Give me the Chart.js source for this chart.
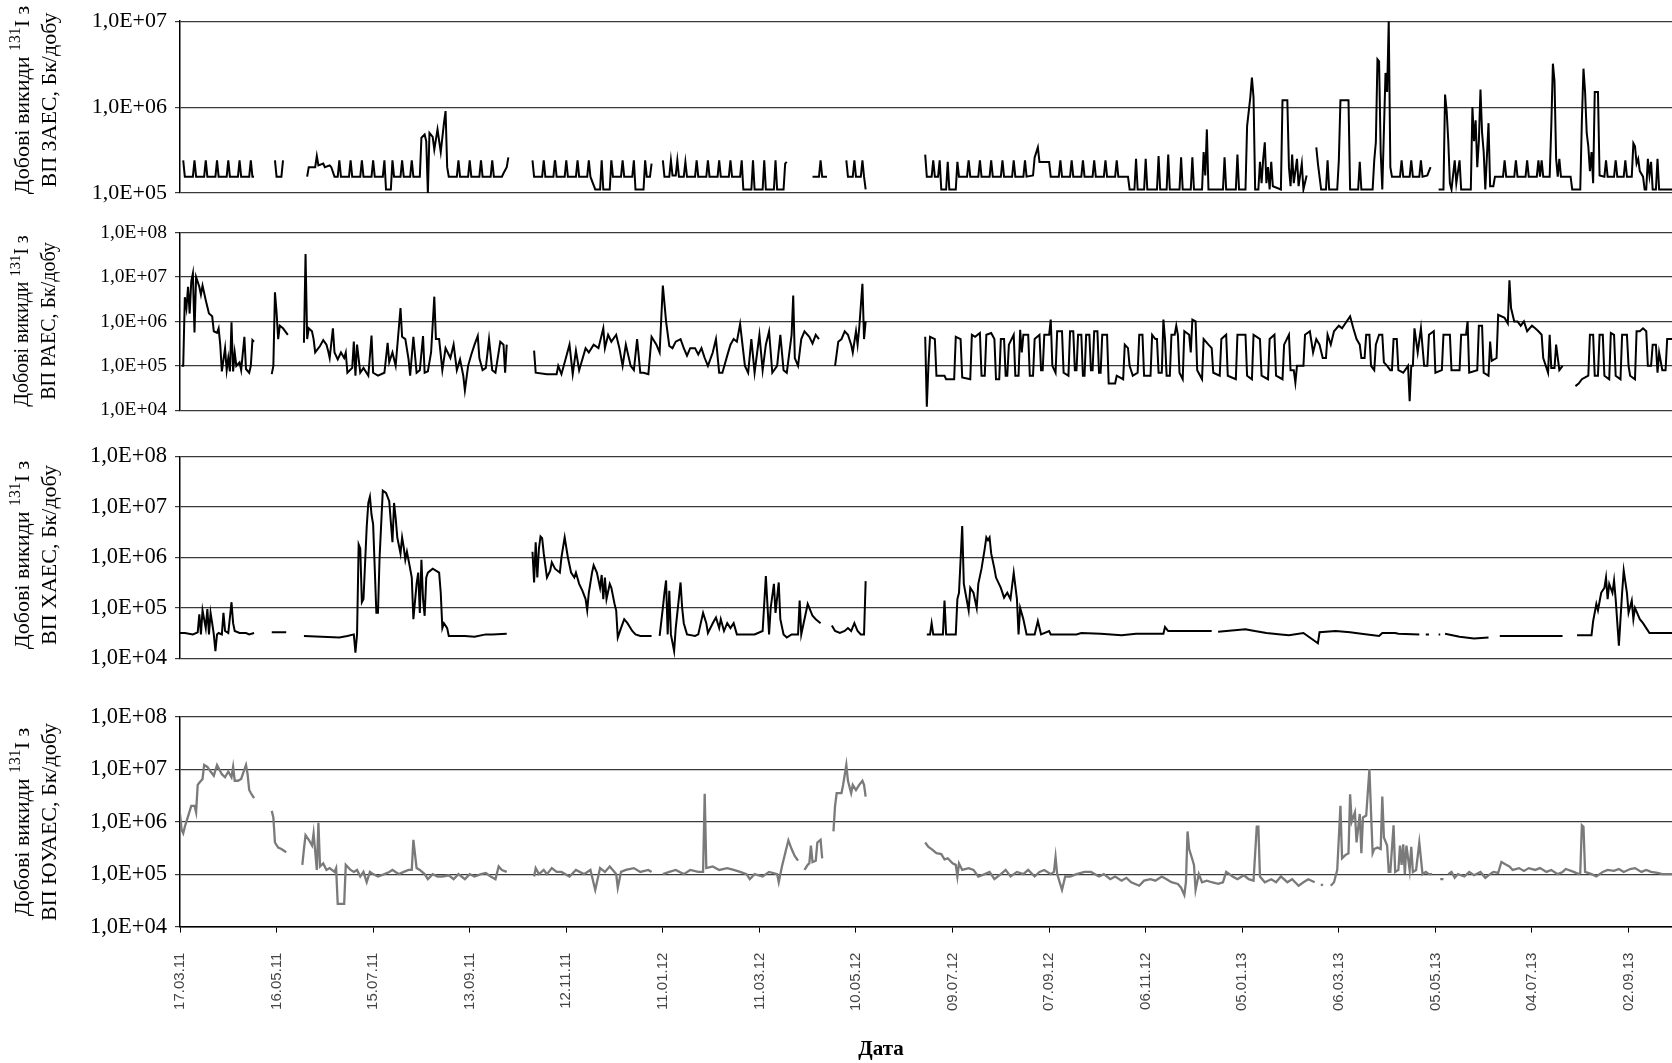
<!DOCTYPE html>
<html><head><meta charset="utf-8">
<script src="https://cdn.jsdelivr.net/npm/chart.js@4.4.1/dist/chart.umd.min.js"></script>
<style>
html,body{margin:0;padding:0;background:#fff;}
#wrap{position:relative;width:1672px;height:1063px;overflow:hidden;background:#fff;}
canvas{position:absolute;left:0;}
.ytitle{position:absolute;left:35px;transform:translate(-50%,-50%) rotate(-90deg);white-space:nowrap;text-align:center;font-family:'Liberation Serif',serif;color:#000;line-height:27px;}
.ytitle sup{font-size:0.72em;line-height:0;vertical-align:0.55em;}
#xtitle{position:absolute;left:881px;top:1048px;transform:translate(-50%,-50%);font-family:'Liberation Serif',serif;font-weight:bold;font-size:21px;color:#000;white-space:nowrap;}
</style></head><body>
<div id="wrap">
<canvas id="c1" width="1672" height="215" style="top:0px"></canvas>
<canvas id="c2" width="1672" height="225" style="top:205px"></canvas>
<canvas id="c3" width="1672" height="250" style="top:430px"></canvas>
<canvas id="c4" width="1672" height="373" style="top:690px"></canvas>
<div class="ytitle" style="top:100px;font-size:22px">Добові викиди <sup>131</sup>I з<br>ВП ЗАЕС, Бк/добу</div>
<div class="ytitle" style="top:321px;font-size:20px">Добові викиди <sup>131</sup>I з<br>ВП РАЕС, Бк/добу</div>
<div class="ytitle" style="top:555px;font-size:22px">Добові викиди <sup>131</sup>I з<br>ВП ХАЕС, Бк/добу</div>
<div class="ytitle" style="top:822px;font-size:22px">Добові викиди <sup>131</sup>I з<br>ВП ЮУАЕС, Бк/добу</div>
<div id="xtitle">Дата</div>
</div>
<script>
// x axis: days since 17.03.11
const tickDays = [0,60,120,180,240,300,360,420,480,540,600,660,720,780,840,900];
const dateLabels = ['17.03.11','16.05.11','15.07.11','13.09.11','12.11.11','11.01.12','11.03.12','10.05.12','09.07.12','07.09.12','06.11.12','05.01.13','06.03.13','05.05.13','04.07.13','02.09.13'];
const xMax = 927;

const yTicks1 = [1e5, 1e6, 1e7];
const yTicks234 = [1e4, 1e5, 1e6, 1e7, 1e8];

// [day, value]  (null = no data)
const zaes = [
[2,2.4e5],[3,1.55e5],[8,1.55e5],[9,2.4e5],[10,1.55e5],[15,1.55e5],[16,2.4e5],[17,1.55e5],[22,1.55e5],[23,2.4e5],[24,1.55e5],[29,1.55e5],[30,2.4e5],[31,1.55e5],[36,1.55e5],[37,2.4e5],[38,1.55e5],[43,1.55e5],[44,2.4e5],[45,1.55e5],[46,1.55e5],[47,null],
[59,2.4e5],[60,1.55e5],[63,1.55e5],[64,2.4e5],[65,null],
[79,1.55e5],[80,2.0e5],[84,2.0e5],[85,2.7e5],[86,2.1e5],[89,2.2e5],[90,2.0e5],[93,2.1e5],[94,2.0e5],[96,1.55e5],[98,1.55e5],[99,2.4e5],[100,1.55e5],[105,1.55e5],[106,2.4e5],[107,1.55e5],[112,1.55e5],[113,2.4e5],[114,1.55e5],[119,1.55e5],[120,2.4e5],[121,1.55e5],[126,1.55e5],[127,2.4e5],[128,1.1e5],[131,1.1e5],[132,2.4e5],[133,1.55e5],[137,1.55e5],[138,2.4e5],[139,1.55e5],[143,1.55e5],[144,2.4e5],[145,1.55e5],[149,1.55e5],[150,4.4e5],[152,4.8e5],[153,4.0e5],[154,1.0e5],[155,5.0e5],[157,4.5e5],[158,3.2e5],[160,5.5e5],[162,3.0e5],[164,6.5e5],[165,9.0e5],[166,2.0e5],[167,1.55e5],[172,1.55e5],[173,2.4e5],[174,1.55e5],[179,1.55e5],[180,2.4e5],[181,1.55e5],[186,1.55e5],[187,2.4e5],[188,1.55e5],[193,1.55e5],[194,2.4e5],[195,1.55e5],[200,1.55e5],[201,1.7e5],[203,2.0e5],[204,2.6e5],[205,null],
[219,2.4e5],[220,1.55e5],[225,1.55e5],[226,2.4e5],[227,1.55e5],[232,1.55e5],[233,2.4e5],[234,1.55e5],[239,1.55e5],[240,2.4e5],[241,1.55e5],[246,1.55e5],[247,2.4e5],[248,1.55e5],[253,1.55e5],[254,2.4e5],[255,1.55e5],[258,1.1e5],[261,1.1e5],[262,2.4e5],[263,1.1e5],[267,1.1e5],[268,2.4e5],[269,1.55e5],[274,1.55e5],[275,2.4e5],[276,1.55e5],[281,1.55e5],[282,2.4e5],[283,1.1e5],[288,1.1e5],[289,2.4e5],[290,1.55e5],[292,1.55e5],[293,2.2e5],[294,null],
[300,2.4e5],[301,1.55e5],[304,1.55e5],[305,2.4e5],[306,1.6e5],[308,1.6e5],[309,2.4e5],[310,1.55e5],[313,1.55e5],[314,2.3e5],[315,1.55e5],[320,1.55e5],[321,2.4e5],[322,1.55e5],[327,1.55e5],[328,2.4e5],[329,1.55e5],[334,1.55e5],[335,2.4e5],[336,1.55e5],[341,1.55e5],[342,2.4e5],[343,1.55e5],[348,1.55e5],[349,2.4e5],[350,1.1e5],[355,1.1e5],[356,2.4e5],[357,1.1e5],[362,1.1e5],[363,2.4e5],[364,1.1e5],[369,1.1e5],[370,2.4e5],[371,1.1e5],[375,1.1e5],[376,2.2e5],[377,2.3e5],[378,null],
[393,1.55e5],[397,1.55e5],[398,2.4e5],[399,1.55e5],[402,1.55e5],[403,null],
[414,2.4e5],[415,1.55e5],[418,1.55e5],[419,2.4e5],[420,1.55e5],[423,1.55e5],[424,2.4e5],[425,1.55e5],[426,1.1e5],[427,null],
[463,2.8e5],[464,1.55e5],[467,1.55e5],[468,2.4e5],[469,1.55e5],[471,1.55e5],[472,2.4e5],[473,1.1e5],[476,1.1e5],[477,2.3e5],[478,1.1e5],[482,1.1e5],[483,2.3e5],[484,1.55e5],[489,1.55e5],[490,2.4e5],[491,1.55e5],[496,1.55e5],[497,2.4e5],[498,1.55e5],[503,1.55e5],[504,2.4e5],[505,1.55e5],[510,1.55e5],[511,2.4e5],[512,1.55e5],[517,1.55e5],[518,2.4e5],[519,1.55e5],[524,1.55e5],[525,2.4e5],[526,1.55e5],[530,1.6e5],[531,2.6e5],[533,3.4e5],[534,2.3e5],[540,2.3e5],[541,1.55e5],[546,1.55e5],[547,2.4e5],[548,1.55e5],[553,1.55e5],[554,2.4e5],[555,1.55e5],[560,1.55e5],[561,2.4e5],[562,1.55e5],[567,1.55e5],[568,2.4e5],[569,1.55e5],[574,1.55e5],[575,2.4e5],[576,1.55e5],[581,1.55e5],[582,2.4e5],[583,1.55e5],[589,1.55e5],[590,1.1e5],
[593,1.1e5],[594,2.5e5],[595,1.1e5],[599,1.1e5],[600,2.5e5],[601,1.1e5],[607,1.1e5],[608,2.7e5],[609,1.1e5],[613,1.1e5],[614,2.8e5],[615,1.1e5],[621,1.1e5],[622,2.6e5],[623,1.1e5],[628,1.1e5],[629,2.6e5],[630,1.1e5],[635,1.1e5],[636,3.0e5],[637,1.6e5],[638,5.5e5],[639,1.1e5],[648,1.1e5],[649,2.6e5],[650,1.1e5],[656,1.1e5],[657,2.8e5],[658,1.1e5],[662,1.1e5],[663,6e5],[665,1.3e6],[666,2.2e6],[667,1.3e6],[668,1.1e5],[670,1.1e5],[671,2.3e5],[672,1.3e5],[673,2.5e5],[674,3.9e5],[675,1.3e5],[676,2e5],[677,1.1e5],[678,2.3e5],[679,1.2e5],[684,1.1e5],[685,1.2e6],[688,1.2e6],[689,2e5],[690,1.2e5],[691,2.8e5],[692,1.3e5],[694,2.5e5],[695,1.2e5],[697,2.2e5],[698,1.1e5],[700,1.6e5],[701,null],
[706,3.4e5],[707,2.2e5],[709,1.1e5],[712,1.1e5],[713,2.4e5],[714,1.1e5],[719,1.1e5],[720,2.4e5],[721,1.2e6],[726,1.2e6],[727,1.1e5],[732,1.1e5],[733,2.3e5],[734,1.1e5],[741,1.1e5],[742,2.4e5],[743,3.9e5],[744,3.6e6],[745,3.4e6],[746,3e5],[747,1.1e5],[749,2.5e6],[750,1.5e6],[751,1e7],[752,2e5],[753,1.55e5],[758,1.55e5],[759,2.4e5],[760,1.55e5],[764,1.55e5],[765,2.4e5],[766,1.55e5],[770,1.55e5],[771,2.4e5],[772,1.55e5],[775,1.6e5],[776,1.8e5],[777,2.0e5],[778,null],
[782,1.1e5],[785,1.1e5],[786,1.4e6],[787,9e5],[788,4e5],[789,1.3e5],[790,1.1e5],[792,2.4e5],[793,1.3e5],[795,2.4e5],[796,1.1e5],[802,1.1e5],[803,1e6],[804,4e5],[805,7e5],[806,2e5],[807,4e5],[808,1.6e6],[809,5e5],[810,3e5],[811,1.1e5],[813,6.5e5],[814,1.2e5],[816,1.2e5],[817,1.55e5],[822,1.55e5],[823,2.4e5],[824,1.55e5],[829,1.55e5],[830,2.4e5],[831,1.55e5],[836,1.55e5],[837,2.4e5],[838,1.55e5],[843,1.55e5],[844,2.4e5],[845,1.55e5],[846,2.4e5],[847,1.55e5],[851,1.55e5],[852,6e5],[853,3.2e6],[854,2e6],[855,2.5e5],[856,1.55e5],[857,2.5e5],[858,1.55e5],[864,1.55e5],[865,1.1e5],[870,1.1e5],[871,7e5],[872,2.8e6],[873,1.5e6],[874,5e5],[875,3.5e5],[876,1.8e5],[877,3e5],[878,1.3e5],[879,1.5e6],[881,1.5e6],[882,1.6e5],[885,1.55e5],[886,2.4e5],[887,1.55e5],[891,1.55e5],[892,2.4e5],[893,1.55e5],[897,1.55e5],[898,2.4e5],[899,1.55e5],[902,1.55e5],[903,3.8e5],[904,3.5e5],[905,2.2e5],[906,2.5e5],[907,1.8e5],[909,1.55e5],[910,1.1e5],[911,1.1e5],[912,2.5e5],[913,1.6e5],[914,2.3e5],[915,1.1e5],[917,1.1e5],[918,2.5e5],[919,1.1e5],[927,1.1e5]
];

const raes = [
[1,1e5],[2,1e5],[3,3.5e6],[4,2e6],[5,6e6],[6,1.5e6],[7,8e6],[8,1.2e7],[9,5.6e5],[10,1e7],[12,6e6],[13,4e6],[14,6.4e6],[16,3e6],[18,1.5e6],[20,1.3e6],[21,6e5],[23,5.5e5],[24,7e5],[25,3e5],[26,7.5e4],[28,2.5e5],[29,8e4],[30,1.5e5],[31,7.5e4],[32,9.5e5],[33,7.5e4],[34,2e5],[35,1e5],[37,1.2e5],[38,8e4],[40,4.5e5],[41,8.5e4],[43,7e4],[44,1e5],[45,3.8e5],[46,3.5e5],[47,null],
[57,6.5e4],[58,1e5],[59,4.5e6],[60,1.6e6],[61,4e5],[62,8e5],[64,7e5],[67,5e5],[68,null],
[77,3.3e5],[78,3.3e7],[79,4e5],[80,7e5],[82,6e5],[83,4e5],[84,2e5],[87,2.8e5],[89,3.8e5],[91,3e5],[92,2.2e5],[93,1.5e5],[95,7e5],[96,2e5],[98,1.4e5],[100,2e5],[102,1.5e5],[103,2e5],[104,7e4],[107,9e4],[108,3.5e5],[109,6e4],[110,3e5],[112,7e4],[114,9e4],[117,6e4],[119,4.8e5],[120,7e4],[123,6e4],[127,7e4],[129,3.3e5],[130,1.2e5],[132,2e5],[134,1e5],[137,2e6],[138,4.5e5],[140,4e5],[142,1.4e5],[143,6e4],[145,4.5e5],[147,7e4],[149,8e4],[151,4.7e5],[152,7e4],[154,7.5e4],[156,2e5],[158,3.6e6],[159,4e5],[161,4e5],[163,8e4],[165,2.5e5],[168,1.5e5],[170,3e5],[172,8e4],[174,1.4e5],[176,6e4],[177,2.8e4],[179,1e5],[181,1.8e5],[183,3e5],[185,4.7e5],[186,1.5e5],[188,8e4],[190,9e4],[192,4e5],[194,8e4],[196,7e4],[199,3.5e5],[201,3e5],[202,7e4],[203,3e5],[204,null],
[220,2.2e5],[221,7e4],[228,6.5e4],[234,6.5e4],[235,1e5],[237,6.5e4],[242,3e5],[244,6.5e4],[246,2.2e5],[248,8e4],[252,2.5e5],[254,2e5],[257,3e5],[260,2.5e5],[263,7e5],[264,2.5e5],[266,5e5],[268,3.5e5],[271,5e5],[273,2.5e5],[275,1e5],[277,3e5],[280,1e5],[282,8e4],[284,4e5],[286,7e4],[288,7e4],[291,6.5e4],[293,4.5e5],[296,3e5],[298,2e5],[300,6.4e6],[302,1e6],[304,2.8e5],[306,2.5e5],[308,3.5e5],[311,4e5],[313,2.5e5],[315,1.7e5],[317,2.5e5],[320,2.5e5],[322,1.8e5],[324,2.5e5],[326,1.5e5],[328,1e5],[331,2e5],[333,4e5],[335,7e4],[337,7e4],[340,1.7e5],[342,3e5],[344,4e5],[346,3.5e5],[348,8.7e5],[351,1e5],[353,7e4],[355,4e5],[357,7e4],[360,5e5],[362,8e4],[364,3e5],[366,6e5],[368,7e4],[371,1e5],[373,5e5],[375,8e4],[377,7e4],[380,5e5],[381,3.8e6],[382,1.5e5],[384,1e5],[386,4e5],[388,6e5],[391,4.5e5],[393,3.2e5],[395,5e5],[397,4e5],[399,null],
[407,1e5],[409,3.5e5],[411,4e5],[413,6e5],[415,5e5],[417,3e5],[418,2e5],[420,6e5],[421,3e5],[422,7e5],[424,7e6],[425,4e5],[426,1e6],[427,null],
[463,4.5e5],[464,1.2e4],[465,1e5],[466,4.5e5],[469,4e5],[470,6e4],[475,6e4],[476,5e4],[481,5e4],[482,4.5e5],[485,4e5],[486,5.5e4],[491,5e4],[492,5e5],[494,4.5e5],[497,5.5e5],[498,6e4],[500,6e4],[501,5e5],[504,5.5e5],[506,4e5],[507,5e4],[509,5e4],[510,4e5],[512,4e5],[513,6e4],[514,6e4],[515,3e5],[518,5e5],[519,6e4],[521,6e4],[522,6.5e5],[523,2e5],[524,5e5],[527,5e5],[528,6e4],[530,6e4],[531,4e5],[534,5e5],[535,8e4],[536,8e4],[537,5e5],[540,5e5],[541,1.1e6],[542,1e5],[544,7e4],[545,6e5],[548,6e5],[549,7e4],[552,6e4],[553,6e5],[555,6e5],[556,8e4],[557,8e4],[558,5e5],[560,5e5],[561,6e4],[562,6e4],[563,5e5],[565,5e5],[566,8e4],[567,8e4],[568,6e5],[570,6e5],[571,7e4],[572,7e4],[573,5e5],[576,5e5],[577,4e4],[581,4e4],[582,6e4],[586,5e4],[587,3e5],[589,2.5e5],[590,1e5],[592,6e4],[595,7e4],[596,5e5],[598,5e5],[599,6e4],[603,6e4],[604,5e5],[606,4e5],[607,4e5],[608,7e4],[610,7e4],[611,1.1e6],[612,4e5],[613,6e4],[615,6e4],[616,5e5],[618,5e5],[619,8e5],[620,5e5],[621,7e4],[623,5e4],[624,6e5],[627,5e5],[628,2e5],[629,1.1e6],[631,1e6],[632,8e4],[635,5e4],[636,4e5],[639,3e5],[641,2.5e5],[642,7e4],[646,6e4],[647,4e5],[650,5e5],[651,6e4],[656,5e4],[657,5e5],[662,5e5],[663,6e4],[666,5e4],[667,5e5],[671,4e5],[672,6e4],[676,5e4],[677,4e5],[680,5e5],[681,6e4],[685,5e4],[686,3e5],[689,5e5],[690,8e4],[692,8e4],[693,4.2e4],[694,1e5],[698,1e5],[699,5e5],[702,6e5],[704,2e5],[706,4e5],[708,3e5],[710,1.5e5],[712,1.5e5],[713,5e5],[715,3e5],[717,6e5],[720,8e5],[722,7e5],[724,9e5],[727,1.3e6],[729,7e5],[731,4e5],[733,3e5],[734,1.5e5],[736,1.5e5],[737,5e5],[739,5e5],[740,1e5],[742,8e4],[743,3e5],[745,5e5],[747,5e5],[748,1.2e5],[750,1e5],[752,8e4],[753,8e4],[754,4e5],[756,4e5],[757,8e4],[760,7e4],[763,1e5],[764,1.6e4],[765,1e5],[766,1e5],[767,7e5],[769,2e5],[771,7e5],[773,1e5],[775,1e5],[776,5e5],[779,6e5],[780,7e4],[784,8e4],[785,5e5],[789,5e5],[790,8e4],[795,8e4],[796,5e5],[799,5e5],[800,1e6],[801,7e4],[806,8e4],[807,8e5],[809,8e5],[810,7e4],[813,6e4],[814,3.5e5],[815,1.3e5],[818,1.5e5],[819,1.4e6],[823,1.2e6],[825,9e5],[826,8.4e6],[827,2e6],[829,1e6],[831,1e6],[833,8e5],[835,1e6],[837,6e5],[840,8e5],[842,7e5],[844,6e5],[846,5e5],[847,1.5e5],[850,7e4],[851,5e5],[852,9e4],[854,9e4],[855,3e5],[857,8e4],[859,1e5],[860,null],
[867,3.5e4],[869,4e4],[871,5e4],[875,6e4],[876,5e5],[878,5e5],[879,6e4],[881,6e4],[882,5e5],[884,5e5],[885,6e4],[888,5e4],[889,5.5e5],[891,5e5],[892,6e4],[895,5e4],[896,5e5],[899,5e5],[900,1e5],[901,6e4],[904,5e4],[905,6e5],[907,6e5],[909,7e5],[911,6e5],[912,1e5],[914,1e5],[915,3e5],[917,3e5],[918,7e4],[919,2e5],[921,8e4],[923,8e4],[924,4e5],[927,4e5]
];

const haes = [
[0,3.2e4],[3,3.2e4],[8,3e4],[11,3.3e4],[12,7.5e4],[13,3e4],[14,9e4],[16,4e4],[17,9.5e4],[18,3e4],[19,8e4],[20,5e4],[21,3e4],[22,1.4e4],[23,3e4],[24,3.2e4],[26,3e4],[27,8e4],[28,3.5e4],[30,3.2e4],[32,1.3e5],[33,5e4],[34,3.5e4],[37,3.2e4],[41,3.2e4],[43,3e4],[46,3.2e4],[47,null],
[57,3.3e4],[66,3.3e4],[67,null],
[77,2.8e4],[88,2.7e4],[99,2.6e4],[104,2.8e4],[108,3e4],[109,1.3e4],[110,3e4],[111,1.8e6],[112,1.5e6],[113,1.3e5],[114,1.5e5],[116,4e6],[117,1.2e7],[118,1.6e7],[119,7e6],[120,4.5e6],[122,8e4],[123,8e4],[124,1e6],[126,2.1e7],[128,1.9e7],[130,1.3e7],[131,5e6],[132,2e6],[133,1.2e7],[134,6e6],[135,2.5e6],[137,1.2e6],[138,2.5e6],[139,1.6e6],[140,9e5],[141,1.3e6],[143,6e5],[144,4e5],[145,6e4],[147,3e5],[148,5e5],[149,8e4],[150,9e5],[151,1.5e5],[152,7e4],[153,4e5],[154,5e5],[157,6e5],[159,5.5e5],[161,5e5],[162,2e5],[163,4e4],[164,5e4],[166,4e4],[167,2.8e4],[177,2.8e4],[183,2.7e4],[190,3e4],[194,3e4],[203,3.1e4],[204,null],
[219,1.3e6],[220,3.2e5],[221,2e6],[222,4e5],[223,1.5e6],[224,2.6e6],[225,2.4e6],[226,1.2e6],[228,4e5],[230,5.5e5],[231,8e5],[233,6e5],[236,5e5],[237,1e6],[239,2.5e6],[241,1e6],[243,5e5],[245,4e5],[246,5e5],[248,3e5],[250,2.2e5],[252,1.5e5],[253,9e4],[254,2e5],[256,5e5],[257,7e5],[259,5e5],[261,2.5e5],[262,4.5e5],[263,1.5e5],[264,4e5],[265,1.5e5],[267,3e5],[268,2.5e5],[270,1.2e5],[271,9e4],[272,2.6e4],[274,4e4],[276,6e4],[278,5e4],[281,3.5e4],[283,3e4],[286,2.8e4],[293,2.8e4],[294,null],
[298,2.8e4],[300,1e5],[301,2e5],[302,3.5e5],[303,3e4],[304,2.2e5],[305,3e4],[307,1.4e4],[308,4e4],[311,3.2e5],[312,1e5],[313,5e4],[315,3e4],[320,2.8e4],[322,3e4],[325,8e4],[327,5e4],[328,3.2e4],[331,5e4],[333,6.5e4],[335,4e4],[336,6e4],[338,3.5e4],[340,5e4],[342,4e4],[344,5e4],[346,3e4],[348,3e4],[353,3e4],[357,3e4],[362,3.5e4],[364,4.3e5],[366,3e4],[367,1e5],[369,3e5],[370,8e4],[372,3.2e5],[373,6e4],[375,3e4],[377,2.6e4],[380,3e4],[384,3e4],[385,1.4e5],[386,3e4],[388,6e4],[390,1.2e5],[391,1e5],[393,7e4],[395,6e4],[398,5e4],[399,null],
[405,4.5e4],[407,3.5e4],[410,3.2e4],[413,3.5e4],[415,4e4],[417,3.5e4],[419,5e4],[421,3.5e4],[423,3e4],[425,3e4],[426,3.4e5],[427,null],
[464,3e4],[466,3e4],[467,5e4],[468,3e4],[474,3e4],[475,1.4e5],[476,3e4],[482,3e4],[483,1.5e5],[484,2e5],[486,4.2e6],[487,3e5],[488,2e5],[490,9e4],[491,2.5e5],[493,2e5],[495,1e5],[496,3e5],[498,6e5],[500,1.5e6],[501,2.5e6],[502,2.2e6],[503,2.5e6],[504,1.2e6],[506,6e5],[507,4e5],[510,2.5e5],[512,1.6e5],[514,2e5],[516,1.5e5],[518,5e5],[520,1.5e5],[521,3e4],[522,1e5],[524,6e4],[526,3e4],[531,3e4],[533,5.5e4],[535,3e4],[540,3.5e4],[541,3e4],[557,3e4],[560,3.2e4],[572,3.1e4],[585,2.9e4],[594,3.1e4],[611,3.1e4],[612,4.2e4],[614,3.5e4],[641,3.5e4],[642,null],
[645,3.4e4],[662,3.8e4],[666,3.6e4],[675,3.2e4],[684,3e4],[689,2.9e4],[698,3.2e4],[707,2e4],[708,3.3e4],[718,3.5e4],[727,3.3e4],[734,3.1e4],[745,2.8e4],[747,3.2e4],[755,3.2e4],[757,3.1e4],[770,3e4],[771,null],[774,3e4],[776,3e4],[777,null],[782,3e4],[783,3e4],[784,null],[786,3.1e4],[795,2.7e4],[804,2.5e4],[813,2.6e4],[814,null],[820,2.8e4],[859,2.8e4],[860,null],[868,2.9e4],[877,2.9e4],[878,5.5e4],[880,1.2e5],[881,9e4],[883,2e5],[885,2.5e5],[886,4e5],[887,1.5e5],[888,3e5],[890,2e5],[891,3.5e5],[892,1.5e5],[894,1.8e4],[896,2e5],[897,5.5e5],[899,2e5],[900,8e4],[902,1.4e5],[903,6e4],[904,1e5],[907,6e4],[909,5e4],[911,4e4],[913,3.2e4],[927,3.2e4]
];

const yuaes = [
[0,1.4e6],[1,7e5],[2,6e5],[3,8e5],[4,1e6],[7,2e6],[9,2e6],[10,1.5e6],[11,5e6],[12,5.5e6],[14,6.5e6],[15,1.2e7],[17,1.1e7],[19,9e6],[21,7.5e6],[23,1.2e7],[26,8e6],[28,7e6],[30,9e6],[32,7e6],[33,1.1e7],[34,6e6],[36,6e6],[38,6.5e6],[39,8e6],[41,1.2e7],[42,8e6],[43,4e6],[44,3.5e6],[46,2.8e6],[47,null],
[57,1.6e6],[58,1.2e6],[59,4e5],[61,3.2e5],[63,3e5],[66,2.6e5],[67,null],
[76,1.5e5],[77,3e5],[78,5.5e5],[80,4.5e5],[82,3.5e5],[83,6e5],[85,1.2e5],[86,9.5e5],[87,1.4e5],[89,1.6e5],[91,1.2e5],[93,1.3e5],[96,1.1e5],[97,1.3e5],[98,2.7e4],[102,2.7e4],[103,1.5e5],[106,1.2e5],[108,1.1e5],[110,1.2e5],[112,9e4],[114,1.1e5],[116,7e4],[118,1.1e5],[120,1e5],[123,9e4],[127,1e5],[130,1.1e5],[132,1.2e5],[136,1e5],[139,1.1e5],[142,1.2e5],[144,1.2e5],[145,4.5e5],[147,1.3e5],[149,1.2e5],[152,1e5],[154,8e4],[157,1e5],[160,9e4],[163,9e4],[167,9.5e4],[170,8e4],[173,1e5],[177,8e4],[180,1e5],[183,9e4],[187,1e5],[190,1.05e5],[193,9e4],[196,8e4],[198,1.4e5],[200,1.2e5],[203,1.1e5],[204,null],
[220,9e4],[221,1.3e5],[223,1e5],[226,1.2e5],[228,1e5],[231,1.3e5],[234,1.1e5],[237,1.1e5],[242,9e4],[246,1.2e5],[251,1e5],[255,1.2e5],[258,5e4],[261,1.3e5],[264,1.1e5],[267,1.4e5],[271,1e5],[272,5.5e4],[274,1.1e5],[277,1.2e5],[282,1.3e5],[286,1.1e5],[291,1.2e5],[293,1.1e5],[294,null],
[300,1e5],[304,1.1e5],[308,1.2e5],[313,1e5],[317,1.2e5],[322,1.1e5],[325,1.1e5],[326,3.4e6],[327,1.3e5],[331,1.4e5],[335,1.2e5],[340,1.3e5],[344,1.2e5],[348,1.1e5],[352,1e5],[354,8e4],[357,1e5],[362,9e4],[366,1.1e5],[371,1e5],[372,7e4],[374,1.4e5],[376,2.5e5],[378,4.4e5],[380,3e5],[382,2.2e5],[384,1.8e5],[385,null],
[388,1.2e5],[390,1.5e5],[391,1.6e5],[392,3.5e5],[393,1.7e5],[395,1.8e5],[396,4e5],[398,4.5e5],[399,2e5],[400,null],
[406,6.5e5],[407,2e6],[408,3.5e6],[411,3.5e6],[412,5e6],[414,1.2e7],[415,6e6],[417,3.5e6],[418,5e6],[420,4e6],[422,5e6],[424,6e6],[425,5e6],[426,3e6],[427,null],
[463,4e5],[465,3.3e5],[467,3e5],[470,2.5e5],[473,2.4e5],[475,1.9e5],[477,2e5],[480,1.6e5],[482,1.5e5],[483,9e4],[484,1.6e5],[486,1.2e5],[490,1.3e5],[493,1.2e5],[496,9e4],[500,1e5],[503,1.1e5],[506,8e4],[510,1e5],[513,1.2e5],[516,9e4],[520,1.1e5],[524,1e5],[527,1.2e5],[531,9e4],[534,1.1e5],[537,1.2e5],[541,1e5],[543,1.1e5],[544,2.1e5],[545,1e5],[548,5e4],[550,9e4],[553,9e4],[557,1e5],[562,1.1e5],[566,1.1e5],[571,9e4],[574,1e5],[578,8e4],[581,9e4],[585,7.5e4],[588,8.5e4],[591,7e4],[596,6e4],[599,7.5e4],[603,8e4],[606,7.5e4],[610,9e4],[613,8e4],[616,7e4],[620,6.5e4],[622,5.5e4],[624,4e4],[625,7e4],[626,6.5e5],[627,3e5],[629,1.9e5],[630,1.5e5],[631,5e4],[633,1e5],[635,7e4],[638,7.5e4],[641,7e4],[645,6.5e4],[648,7e4],[650,1.1e5],[654,9e4],[657,8e4],[661,9.5e4],[664,8e4],[667,7.5e4],[669,8e5],[670,8e5],[671,9e4],[674,7e4],[678,8e4],[681,7e4],[684,9e4],[688,7e4],[691,8e4],[695,6e4],[698,7e4],[701,8e4],[705,7e4],[706,null],
[709,6e4],[710,6.5e4],[711,null],[715,6e4],[717,7e4],[719,1.2e5],[721,2e6],[722,2e5],[724,2.3e5],[726,2.5e5],[727,3.3e6],[728,1e6],[730,1.5e6],[731,4e5],[733,1.4e6],[734,2.5e5],[735,1.2e6],[737,1.3e6],[739,1e7],[740,1.5e6],[741,2.5e5],[742,3e5],[744,3.2e5],[746,3e5],[747,3e6],[748,5e5],[750,3.5e5],[751,1.1e5],[752,1.1e5],[754,8.5e5],[755,1.1e5],[757,1.2e5],[758,3.5e5],[759,1.5e5],[760,3.7e5],[761,1e5],[762,3.5e5],[764,1.2e5],[765,3.3e5],[766,1.1e5],[768,1.2e5],[770,4e5],[772,1e5],[774,1.1e5],[776,1e5],[778,1e5],[779,null],
[783,8e4],[785,8e4],[786,null],
[788,1e5],[790,1.1e5],[792,8.5e4],[794,1e5],[798,9e4],[801,1.1e5],[804,9.5e4],[808,1.1e5],[811,8.5e4],[814,1e5],[816,1.1e5],[819,1.05e5],[821,1.7e5],[824,1.5e5],[826,1.4e5],[828,1.2e5],[832,1.3e5],[835,1.15e5],[838,1.3e5],[842,1.2e5],[845,1.3e5],[849,1.1e5],[852,1.2e5],[856,1e5],[859,1.1e5],[861,1.25e5],[866,1.1e5],[869,1e5],[870,1.05e5],[871,8.5e5],[872,8e5],[873,1.1e5],[877,1e5],[880,9e4],[884,1.1e5],[887,1.2e5],[891,1.15e5],[894,1.25e5],[897,1.1e5],[901,1.25e5],[904,1.3e5],[908,1.1e5],[911,1.2e5],[914,1.1e5],[918,1.05e5],[921,1e5],[927,1e5]
];

function expLabel(v) {
  const e = Math.round(Math.log10(v));
  return '1,0E+' + (e < 10 ? '0' + e : String(e));
}

function makePanel(id, series, cfg) {
  const ctx = document.getElementById(id);
  const showX = !!cfg.showX;
  new Chart(ctx, {
    type: 'line',
    data: {
      datasets: [{
        data: series.map(p => ({ x: p[0], y: p[1] })),
        borderColor: cfg.color,
        borderWidth: cfg.lineWidth,
        pointRadius: 0,
        tension: 0,
        spanGaps: false,
        fill: false
      }]
    },
    options: {
      responsive: false,
      animation: false,
      devicePixelRatio: 1,
      events: [],
      layout: { padding: { left: 0, right: 0, top: cfg.padTop, bottom: cfg.padBottom } },
      plugins: { legend: { display: false }, tooltip: { enabled: false } },
      scales: {
        x: {
          type: 'linear', min: 0, max: xMax, display: showX,
          afterBuildTicks: s => { s.ticks = tickDays.map(v => ({ value: v })); },
          afterFit: s => { if (showX) s.height = cfg.xHeight; },
          ticks: {
            autoSkip: false, minRotation: 90, maxRotation: 90,
            callback: (v, i) => dateLabels[i],
            font: { family: 'Liberation Sans', size: 15 }, color: '#444', padding: 20
          },
          grid: { drawOnChartArea: false, drawTicks: true, tickLength: 6, color: '#000', lineWidth: 1 },
          border: { color: '#000', width: 1.5 }
        },
        y: {
          type: 'logarithmic', min: cfg.yMin, max: cfg.yMax,
          afterBuildTicks: s => { s.ticks = cfg.yTicks.map(v => ({ value: v })); },
          afterFit: s => { s.width = 180; },
          ticks: { callback: v => expLabel(v), autoSkip: false,
                   font: { family: 'Liberation Serif', size: cfg.tickSize }, color: '#000', padding: 8 },
          grid: { color: '#3a3a3a', lineWidth: 1.2, tickLength: 5, drawTicks: true },
          border: { color: '#000', width: 1.5 }
        }
      }
    }
  });
}

makePanel('c1', zaes, { color: '#000', lineWidth: 2, padTop: 19, padBottom: 22, yMin: 1e5, yMax: 1e7, yTicks: yTicks1, tickSize: 22 });
makePanel('c2', raes, { color: '#000', lineWidth: 2, padTop: 27.5, padBottom: 17.7, yMin: 1e4, yMax: 1e8, yTicks: yTicks234, tickSize: 19.5 });
makePanel('c3', haes, { color: '#000', lineWidth: 2, padTop: 26.4, padBottom: 20, yMin: 1e4, yMax: 1e8, yTicks: yTicks234, tickSize: 22.5 });
makePanel('c4', yuaes, { color: '#7a7a7a', lineWidth: 2.3, padTop: 26.6, padBottom: 0, yMin: 1e4, yMax: 1e8, yTicks: yTicks234, tickSize: 22.5, showX: true, xHeight: 136.4 });
</script>
</body></html>
